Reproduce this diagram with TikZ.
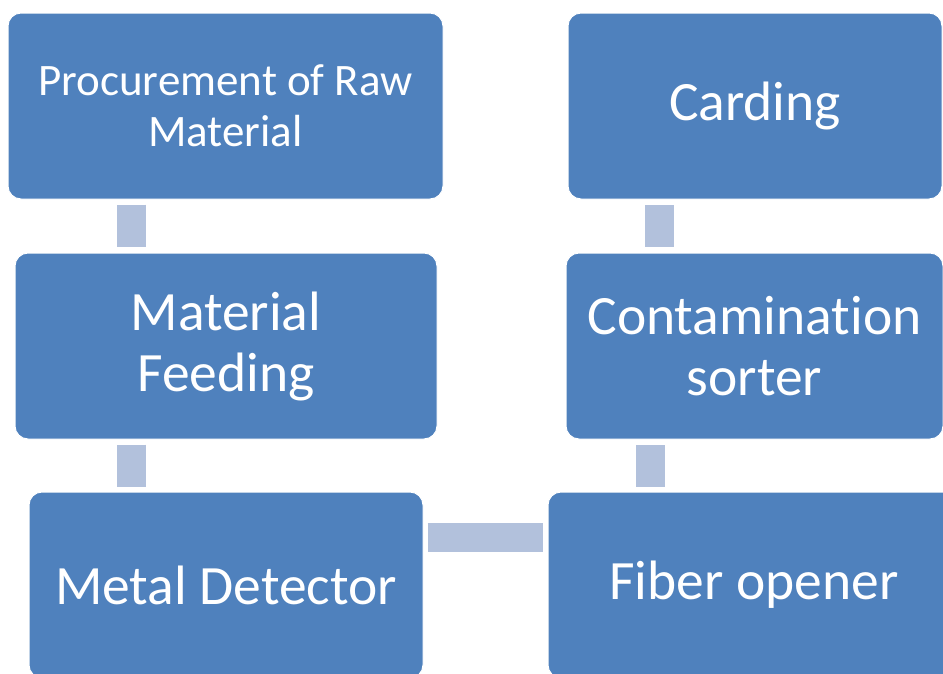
\documentclass[tikz,border=0pt]{standalone}
\usepackage{fontspec}
\setmainfont{Carlito}[Ligatures=NoCommon]
\definecolor{boxblue}{HTML}{4F81BD}
\definecolor{linkblue}{HTML}{B2C1DC}
\begin{document}
\begin{tikzpicture}[x=1pt,y=-1pt,
  stepbox/.style={rectangle, rounded corners=13pt, draw=white, line width=1pt,
    fill=boxblue, text=white, align=center, minimum height=186pt, inner sep=0pt,
    font=\fontsize{55.5pt}{61pt}\selectfont},
  smalltext/.style={font=\fontsize{45pt}{51pt}\selectfont},
  link/.style={draw=linkblue, line width=29pt}]
\clip (0,0) rectangle (943,673);

% process steps
\node[stepbox, smalltext, minimum width=435pt] (proc) at (225.5,106) {Procurement of Raw\\Material};
\node[stepbox, minimum width=422pt] (feed) at (226,346) {Material\\Feeding};
\node[stepbox, minimum width=394pt] (metal) at (226,585) {Metal Detector};
\node[stepbox, minimum width=412pt] (fiber) at (754,585) {Fiber opener};
\node[stepbox, minimum width=377pt] (cont) at (754.5,346) {Contamination\\sorter};
\node[stepbox, minimum width=374pt] (card) at (755,106) {Carding};

% columns of the vertical links
\coordinate (lx) at (131.5,0);
\coordinate (rxlow) at (650,0);
\coordinate (rxhigh) at (659.5,0);
\coordinate (hy) at (0,537.5);

% links between steps
\draw[link, shorten <=5pt, shorten >=6pt] (proc.south -| lx) -- (feed.north -| lx);
\draw[link, shorten <=5pt, shorten >=5pt] (feed.south -| lx) -- (metal.north -| lx);
\draw[link, shorten <=4pt, shorten >=5pt] (metal.east |- hy) -- (fiber.west |- hy);
\draw[link, shorten <=5pt, shorten >=5pt] (fiber.north -| rxlow) -- (cont.south -| rxlow);
\draw[link, shorten <=6pt, shorten >=5pt] (cont.north -| rxhigh) -- (card.south -| rxhigh);
\end{tikzpicture}
\end{document}
